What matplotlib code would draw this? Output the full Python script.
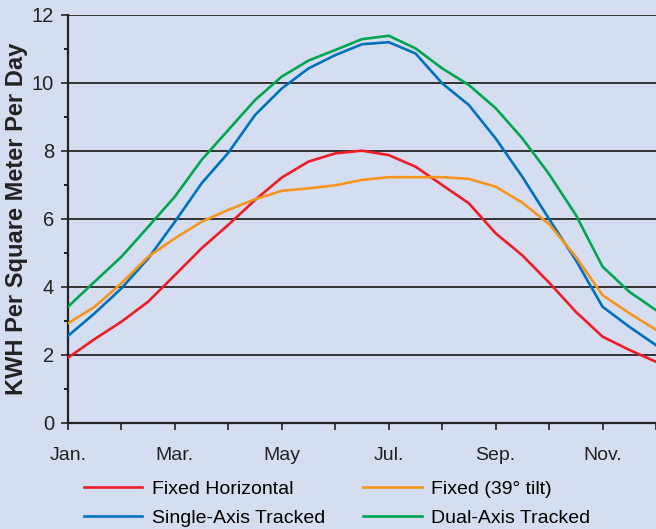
import numpy as np
import matplotlib.pyplot as plt

plt.rcParams['font.family'] = ['Liberation Sans', 'DejaVu Sans']

# half-month steps, Jan (0) .. Dec (11)
months = np.arange(0, 11.5, 0.5)
month_labels = ['Jan.', '', 'Mar.', '', 'May', '', 'Jul.', '', 'Sep.', '', 'Nov.', '']

fixed_horizontal = [1.92, 2.47, 2.98, 3.57, 4.35, 5.14, 5.83, 6.56, 7.22, 7.69, 7.93, 8.01,
                    7.88, 7.54, 7.00, 6.46, 5.58, 4.93, 4.13, 3.27, 2.54, 2.15, 1.80]
fixed_tilt = [2.93, 3.42, 4.11, 4.89, 5.43, 5.92, 6.27, 6.58, 6.83, 6.90, 6.99, 7.15,
              7.23, 7.23, 7.23, 7.18, 6.95, 6.48, 5.85, 4.89, 3.76, 3.23, 2.74]
single_axis = [2.56, 3.23, 3.96, 4.84, 5.92, 7.05, 7.95, 9.06, 9.84, 10.43, 10.82, 11.14,
               11.20, 10.87, 9.99, 9.35, 8.37, 7.24, 6.00, 4.79, 3.42, 2.83, 2.29]
dual_axis = [3.42, 4.16, 4.89, 5.77, 6.66, 7.74, 8.62, 9.50, 10.19, 10.66, 10.97, 11.29,
             11.39, 11.02, 10.43, 9.94, 9.26, 8.37, 7.32, 6.12, 4.60, 3.86, 3.32]

bg = '#d5def0'
fig = plt.figure(figsize=(6.56, 5.29), dpi=100, facecolor=bg)
ax = fig.add_axes([68/656, 1 - 423/529, 1 - 68/656, 408/529])
ax.set_facecolor(bg)

for y in range(2, 13, 2):
    ax.axhline(y, color='#333333', lw=1.4, zorder=1)

l1, = ax.plot(months, fixed_horizontal, color='#ee1c25', lw=1.9, label='Fixed Horizontal', zorder=3)
l2, = ax.plot(months, single_axis, color='#0072bc', lw=1.9, label='Single-Axis Tracked', zorder=3)
l3, = ax.plot(months, fixed_tilt, color='#f7941d', lw=1.9, label='Fixed (39° tilt)', zorder=3)
l4, = ax.plot(months, dual_axis, color='#00a651', lw=1.9, label='Dual-Axis Tracked', zorder=3)

ax.set_xlim(0, 11)
ax.set_ylim(0, 12)
ax.set_xticks(range(12))
ax.set_xticklabels(month_labels, fontsize=14, color='#222222')
ax.set_yticks(range(0, 13, 2))
ax.set_yticks(range(1, 12, 2), minor=True)
ax.tick_params(axis='y', labelsize=14.5, colors='#222222', length=5, width=1.2, pad=5)
ax.tick_params(axis='y', which='minor', length=3, width=1.2)
ax.tick_params(axis='x', length=5, width=1.2, pad=12, colors='#222222')

for s in ['top', 'right']:
    ax.spines[s].set_visible(False)
for s in ['left', 'bottom']:
    ax.spines[s].set_color('#222222')
    ax.spines[s].set_linewidth(1.6)

ax.set_ylabel('KWH Per Square Meter Per Day', fontsize=17, fontweight='bold', color='#222222')
ax.yaxis.set_label_coords(-0.068, 0.5)

fig.legend(handles=[l1, l2, l3, l4], ncol=2, loc='upper left',
           bbox_to_anchor=(84/656, 1 - 480/529), frameon=False, fontsize=14,
           handlelength=3.0, handletextpad=0.5, columnspacing=1.95,
           labelspacing=0.62, borderpad=0, borderaxespad=0)

fig.savefig('out.png', dpi=100, facecolor=bg)
